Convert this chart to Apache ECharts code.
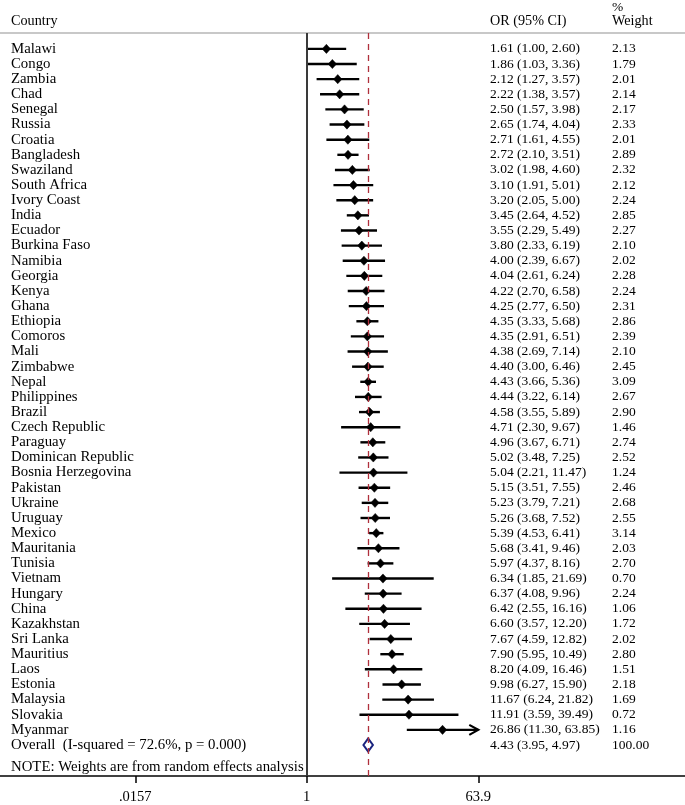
<!DOCTYPE html>
<html>
<head>
<meta charset="utf-8">
<script src="https://cdn.jsdelivr.net/npm/echarts@6/dist/echarts.min.js"></script>
<style>
  html, body { margin: 0; padding: 0; background: #fff; }
  #main { width: 685px; height: 805px; }
</style>
</head>
<body>
<div id="main"></div>
<script>
const countries = ["Malawi", "Congo", "Zambia", "Chad", "Senegal", "Russia", "Croatia", "Bangladesh",
  "Swaziland", "South Africa", "Ivory Coast", "India", "Ecuador", "Burkina Faso", "Namibia", "Georgia",
  "Kenya", "Ghana", "Ethiopia", "Comoros", "Mali", "Zimbabwe", "Nepal", "Philippines", "Brazil",
  "Czech Republic", "Paraguay", "Dominican Republic", "Bosnia Herzegovina", "Pakistan", "Ukraine",
  "Uruguay", "Mexico", "Mauritania", "Tunisia", "Vietnam", "Hungary", "China", "Kazakhstan",
  "Sri Lanka", "Mauritius", "Laos", "Estonia", "Malaysia", "Slovakia", "Myanmar"]
const oddsRatio = [1.61, 1.86, 2.12, 2.22, 2.50, 2.65, 2.71, 2.72, 3.02, 3.10, 3.20, 3.45, 3.55, 3.80,
  4.00, 4.04, 4.22, 4.25, 4.35, 4.35, 4.38, 4.40, 4.43, 4.44, 4.58, 4.71, 4.96, 5.02, 5.04, 5.15, 5.23,
  5.26, 5.39, 5.68, 5.97, 6.34, 6.37, 6.42, 6.60, 7.67, 7.90, 8.20, 9.98, 11.67, 11.91, 26.86]
const ciLower = [1.00, 1.03, 1.27, 1.38, 1.57, 1.74, 1.61, 2.10, 1.98, 1.91, 2.05, 2.64, 2.29, 2.33,
  2.39, 2.61, 2.70, 2.77, 3.33, 2.91, 2.69, 3.00, 3.66, 3.22, 3.55, 2.30, 3.67, 3.48, 2.21, 3.51, 3.79,
  3.68, 4.53, 3.41, 4.37, 1.85, 4.08, 2.55, 3.57, 4.59, 5.95, 4.09, 6.27, 6.24, 3.59, 11.30]
const ciUpper = [2.60, 3.36, 3.57, 3.57, 3.98, 4.04, 4.55, 3.51, 4.60, 5.01, 5.00, 4.52, 5.49, 6.19,
  6.67, 6.24, 6.58, 6.50, 5.68, 6.51, 7.14, 6.46, 5.36, 6.14, 5.89, 9.67, 6.71, 7.25, 11.47, 7.55, 7.21,
  7.52, 6.41, 9.46, 8.16, 21.69, 9.96, 16.16, 12.20, 12.82, 10.49, 16.46, 15.90, 21.82, 39.49, 63.85]
const weights = [2.13, 1.79, 2.01, 2.14, 2.17, 2.33, 2.01, 2.89, 2.32, 2.12, 2.24, 2.85, 2.27, 2.10,
  2.02, 2.28, 2.24, 2.31, 2.86, 2.39, 2.10, 2.45, 3.09, 2.67, 2.90, 1.46, 2.74, 2.52, 1.24, 2.46, 2.68,
  2.55, 3.14, 2.03, 2.70, 0.70, 2.24, 1.06, 1.72, 2.02, 2.80, 1.51, 2.18, 1.69, 0.72, 1.16]

const overallLabel = "Overall  (I-squared = 72.6%, p = 0.000)"
const overall = { or: 4.43, lo: 3.95, hi: 4.97, weight: 100.00 }

const ticks = [0.0157, 1, 63.9]
const tickLabels = [".0157", "1", "63.9"]
const noteText = "NOTE: Weights are from random effects analysis"

// layout: pixel columns
const W = 685
const plotL = 135.3, plotR = 478.3
const colCountry = 11, colOR = 490, colWeight = 612
const FONT = "Liberation Serif"
const FS = 13.5      // numbers
const FS_NAME = 14.8 // country names / note
const FS_HEAD = 14.2 // column headers
const FS_TICK = 14.5

const a = Math.log(ticks[0]), b = Math.log(ticks[ticks.length - 1])
const k = (plotR - plotL) / (b - a)
const xMin = a - plotL / k
const xMax = b + (W - plotR) / k

const studyData = countries.map((c, i) => [
  Math.log(oddsRatio[i]), i, Math.log(ciLower[i]), Math.log(ciUpper[i]), i,
])
const overallRow = countries.length

const chart = echarts.init(document.getElementById("main"), null, { renderer: "canvas" })

const textStyle = (x, y, text, size) => ({
  type: "text",
  style: {
    x, y, text, fill: "#000",
    font: `${size || FS}px "${FONT}"`,
    verticalAlign: "middle", align: "left",
  },
})

const option = {
  backgroundColor: "#fff",
  animation: false,
  grid: { left: 0, right: 0, top: 33, bottom: 29 },
  xAxis: {
    type: "value",
    position: "bottom",
    min: xMin,
    max: xMax,
    splitLine: { show: false },
    axisLine: { show: true, onZero: false, lineStyle: { color: "#000", width: 1.5 } },
    axisTick: {
      show: true,
      customValues: ticks.map(t => Math.log(t)),
      length: 7,
      lineStyle: { color: "#000", width: 1.5 },
    },
    axisLabel: {
      show: true,
      customValues: ticks.map(t => Math.log(t)),
      margin: 14,
      color: "#000",
      fontFamily: FONT,
      fontSize: FS_TICK,
      formatter: v => {
        let best = 0
        ticks.forEach((t, i) => {
          if (Math.abs(Math.log(t) - v) < Math.abs(Math.log(ticks[best]) - v)) best = i
        })
        return tickLabels[best]
      },
    },
  },
  yAxis: {
    type: "value",
    inverse: true,
    min: -1.05,
    max: 48.05,
    show: false,
  },
  graphic: [
    textStyle(colCountry, 21, "Country", FS_HEAD),
    textStyle(colOR, 21, "OR (95% CI)", FS_HEAD),
    textStyle(colWeight, 7, "%", FS),
    textStyle(colWeight, 21, "Weight", FS_HEAD),
    textStyle(colCountry, 767, noteText, FS_NAME),
  ],
  series: [
    {
      type: "custom",
      name: "lines",
      silent: true,
      data: [],
      renderItem: () => null,
      markLine: {
        silent: true,
        symbol: "none",
        label: { show: false },
        data: [
          { yAxis: -1.05, lineStyle: { color: "#c8c8c8", width: 2, type: "solid" } },
          { xAxis: 0, lineStyle: { color: "#3a3a3a", width: 2, type: "solid" } },
          { xAxis: Math.log(overall.or), lineStyle: { color: "#b0303c", width: 1.3, type: [6, 5] } },
        ],
      },
    },
    {
      type: "custom",
      name: "studies",
      clip: false,
      silent: true,
      data: studyData,
      renderItem: (params, api) => {
        const i = api.value(4)
        const c = api.coord([api.value(0), api.value(1)])
        const lo = api.coord([api.value(2), api.value(1)])
        const hi = api.coord([api.value(3), api.value(1)])
        const y = c[1]
        const children = []
        const arrow = ciUpper[i] >= ticks[ticks.length - 1] * 0.99
        children.push({
          type: "line",
          shape: { x1: lo[0], y1: y, x2: hi[0], y2: y },
          style: { stroke: "#000", lineWidth: 2.4 },
        })
        if (arrow) {
          children.push({
            type: "polyline",
            shape: { points: [[hi[0] - 9, y - 5], [hi[0], y], [hi[0] - 9, y + 5]] },
            style: { stroke: "#000", lineWidth: 2.2, fill: "none" },
          })
        }
        children.push({
          type: "polygon",
          shape: { points: [[c[0] - 4.2, y], [c[0], y - 4.6], [c[0] + 4.2, y], [c[0], y + 4.6]] },
          style: { fill: "#000", stroke: "#000", lineWidth: 0.5 },
        })
        children.push(textStyle(colCountry, y, countries[i], FS_NAME))
        children.push(textStyle(colOR, y,
          `${oddsRatio[i].toFixed(2)} (${ciLower[i].toFixed(2)}, ${ciUpper[i].toFixed(2)})`))
        children.push(textStyle(colWeight, y, weights[i].toFixed(2)))
        return { type: "group", children }
      },
    },
    {
      type: "custom",
      name: "overall",
      clip: false,
      silent: true,
      data: [[Math.log(overall.or), overallRow, Math.log(overall.lo), Math.log(overall.hi)]],
      renderItem: (params, api) => {
        const c = api.coord([api.value(0), api.value(1)])
        const lo = api.coord([api.value(2), api.value(1)])
        const hi = api.coord([api.value(3), api.value(1)])
        const y = c[1]
        return {
          type: "group",
          children: [
            {
              type: "polygon",
              shape: { points: [[lo[0], y], [c[0], y - 6.5], [hi[0], y], [c[0], y + 6.5]] },
              style: { fill: "none", stroke: "#1a237e", lineWidth: 2 },
            },
            textStyle(colCountry, y, overallLabel, FS_NAME),
            textStyle(colOR, y,
              `${overall.or.toFixed(2)} (${overall.lo.toFixed(2)}, ${overall.hi.toFixed(2)})`),
            textStyle(colWeight, y, overall.weight.toFixed(2)),
          ],
        }
      },
    },
  ],
}

chart.setOption(option)
</script>
</body>
</html>
